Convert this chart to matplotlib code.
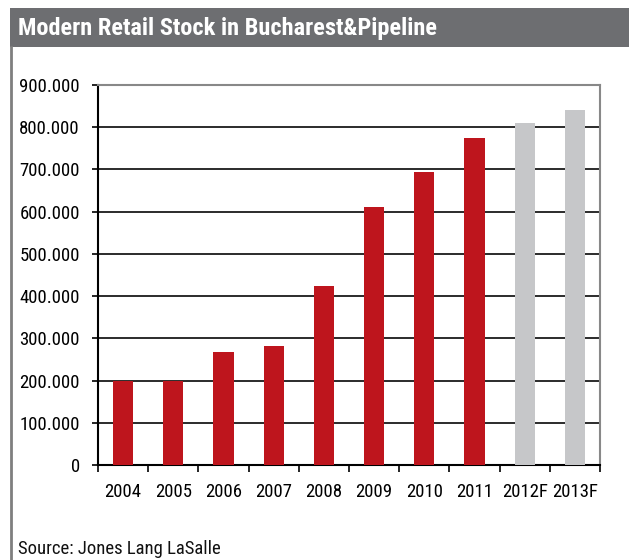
import matplotlib
matplotlib.use("Agg")
import matplotlib.pyplot as plt
from matplotlib.patches import Rectangle
from matplotlib.lines import Line2D
from matplotlib.ticker import FuncFormatter
from matplotlib import font_manager

years = ['2004', '2005', '2006', '2007', '2008', '2009', '2010', '2011', '2012F', '2013F']
stock = [200000, 200000, 267000, 281000, 424000, 610000, 693000, 775000, 809000, 841000]
forecast = [False] * 8 + [True] * 2

# look for a narrow sans; fall back to Liberation Sans at a smaller size
fonts = font_manager.fontManager.ttflist
names = {f.name for f in fonts}
narrow = None
for cand in ['Liberation Sans Narrow', 'Arial Narrow', 'Roboto Condensed', 'Open Sans Condensed',
             'DejaVu Sans Condensed']:
    if cand in names:
        narrow = cand
        break
scale = 1.0
if narrow is not None:
    plt.rcParams['font.family'] = [narrow, 'DejaVu Sans']
else:
    cond = [f for f in fonts if f.stretch in ('condensed', 'semi-condensed', 'extra-condensed')
            or (isinstance(f.stretch, int) and f.stretch < 500)]
    if cond:
        plt.rcParams['font.family'] = [cond[0].name, 'DejaVu Sans']
        plt.rcParams['font.stretch'] = 'condensed'
    else:
        plt.rcParams['font.family'] = ['Liberation Sans', 'DejaVu Sans']
        scale = 0.88

title_size = 17.6 * scale
label_size = 13.5 * scale
source_size = 13.5 * scale

RED = '#BE151D'
GREY = '#C6C7C9'

fig = plt.figure(figsize=(6.29, 5.60), dpi=100)

# header band and left frame line
fig.patches.append(Rectangle((10 / 629, 1 - 47 / 560), 1, 39 / 560, transform=fig.transFigure,
                             facecolor='#6D6E71', edgecolor='none'))
fig.lines.append(Line2D([11 / 629, 11 / 629], [0, 1 - 47 / 560], transform=fig.transFigure,
                        color='#7f7f7f', lw=2))
fig.text(18 / 629, 1 - 28 / 560, 'Modern Retail Stock in Bucharest&Pipeline', color='white',
         fontsize=title_size, fontweight='bold', va='center', ha='left')
fig.text(18 / 629, 1 - 549 / 560, 'Source: Jones Lang LaSalle', fontsize=source_size, va='center',
         ha='left', color='#111111')

ax = fig.add_axes([98 / 629, 95 / 560, 502 / 629, 380 / 560])
x = list(range(len(years)))
colors = [GREY if f else RED for f in forecast]
ax.bar(x, stock, width=0.4, color=colors, edgecolor='none', zorder=3)

ax.set_xlim(-0.5, len(years) - 0.5)
ax.set_ylim(0, 900000)
ax.set_yticks(range(0, 900001, 100000))
ax.yaxis.set_major_formatter(FuncFormatter(lambda v, p: '0' if v == 0 else f'{int(v):,}'.replace(',', '.')))
ax.set_xticks(x)
ax.set_xticklabels(years)
ax.set_xticks([i - 0.5 for i in range(len(years) + 1)], minor=True)
ax.tick_params(axis='x', which='major', length=0, pad=13, labelsize=label_size)
ax.tick_params(axis='x', which='minor', length=5, width=1.2, direction='out', color='black')
ax.tick_params(axis='y', length=4.5, width=1.2, direction='out', pad=8.5, labelsize=label_size)
ax.grid(axis='y', color='#1a1a1a', lw=1.3, zorder=0)
ax.set_axisbelow(True)

for s in ['top', 'right']:
    ax.spines[s].set_color('#888888')
    ax.spines[s].set_linewidth(1.5)
for s in ['left', 'bottom']:
    ax.spines[s].set_color('black')
    ax.spines[s].set_linewidth(1.5)

fig.savefig('out.png', dpi=100)
